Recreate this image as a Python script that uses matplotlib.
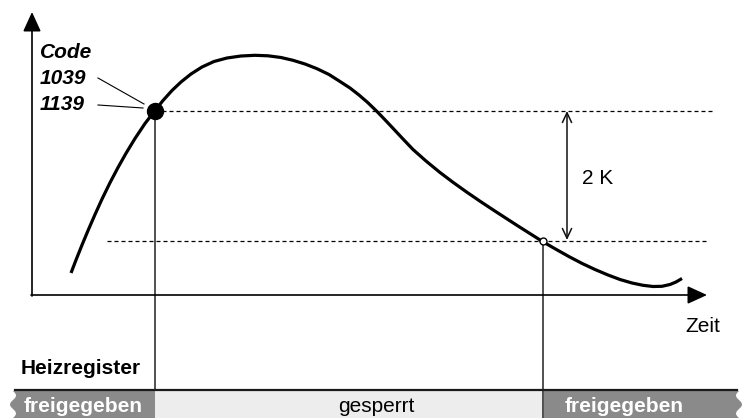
import numpy as np
import matplotlib
matplotlib.use("Agg")
import matplotlib.pyplot as plt
from matplotlib.patches import Polygon

plt.rcParams['font.family'] = ['Liberation Sans', 'DejaVu Sans']

# --- data (schematic; pixel-like units, y downward) ---
curve_t = [71, 76, 82, 88, 95, 102, 110, 118, 126, 135, 145, 155, 163, 172,
           181, 191, 202, 214, 227, 241, 255, 268, 281, 293, 305, 317, 329,
           340, 350, 359, 368, 377, 385, 393, 403, 413, 426, 440, 453, 467,
           480, 493, 505, 518, 530, 543, 556, 569, 582, 595, 608, 620, 632,
           643, 653, 662, 670, 676, 682]
curve_v = [273, 260, 245, 230.6, 214.5, 199.1, 182.7, 167.5, 153.3, 138.5,
           123.5, 110.5, 100.5, 90.5, 82, 74, 67, 61.5, 58, 56, 55.3, 55.8,
           57.5, 60.3, 64, 68.7, 74.5, 81.5, 88, 95, 102.8, 111.5, 119.8,
           128.3, 139, 149.5, 161, 172.5, 182.3, 192.3, 201.2, 209.8, 217.6,
           226, 233.6, 241.8, 249.3, 256.6, 263.4, 269.5, 275, 279.5, 283,
           285.3, 286.5, 286.3, 284.5, 282, 278.5]

switch_off = (155, 111)    # Code 1039 / 1139 point
switch_on = (543, 241)     # 2 K lower point
hyst_label = "2 K"
code_labels = ["Code", "1039", "1139"]
bar_labels = ["freigegeben", "gesperrt", "freigegeben"]
bar_edges = [13, 155, 543, 739]

fig = plt.figure(figsize=(7.45, 4.18), dpi=100)
ax = fig.add_axes([0, 0, 1, 1])
ax.set_xlim(0, 745)
ax.set_ylim(418, 0)
ax.axis('off')

# axes with arrows
ax.annotate("", xy=(32, 12), xytext=(32, 296),
            arrowprops=dict(arrowstyle="-|>,head_length=1.2,head_width=0.55",
                            lw=1.2, color='black', shrinkA=0, shrinkB=0,
                            mutation_scale=10))
ax.annotate("", xy=(707, 295), xytext=(31, 295),
            arrowprops=dict(arrowstyle="-|>,head_length=1.2,head_width=0.55",
                            lw=1.2, color='black', shrinkA=0, shrinkB=0,
                            mutation_scale=10))

# dashed reference lines
ax.plot([switch_off[0], 712], [switch_off[1]] * 2, color='black', lw=0.9,
        linestyle=(0, (3.2, 2.4)))
ax.plot([107, 709], [switch_on[1]] * 2, color='black', lw=0.9,
        linestyle=(0, (3.2, 2.4)))

# vertical lines
ax.plot([switch_off[0]] * 2, [switch_off[1], 390], color='#222222', lw=1.1)
ax.plot([switch_on[0]] * 2, [switch_on[1], 418], color='#222222', lw=1.1)

# curve
ax.plot(curve_t, curve_v, color='black', lw=2.3, solid_capstyle='butt',
        solid_joinstyle='round')

# markers
ax.plot(*switch_off, 'o', color='black', markersize=11.5)
ax.plot(*switch_on, 'o', markerfacecolor='white', markeredgecolor='black',
        markersize=5, markeredgewidth=1.0)

# double arrow 2 K
ax.annotate("", xy=(567, 111), xytext=(567, 240),
            arrowprops=dict(arrowstyle="<->,head_length=0.7,head_width=0.33",
                            lw=1.1, color='#111111', shrinkA=0, shrinkB=0,
                            mutation_scale=10))
ax.text(582, 178, hyst_label, fontsize=15, va='center', ha='left')

# code labels
ax.text(40, 53, code_labels[0], fontsize=15, fontweight='bold',
        fontstyle='italic', va='center', ha='left')
ax.text(40, 79, code_labels[1], fontsize=15, fontweight='bold',
        fontstyle='italic', va='center', ha='left')
ax.text(40, 105, code_labels[2], fontsize=15, fontweight='bold',
        fontstyle='italic', va='center', ha='left')
ax.plot([98, 144], [78, 104], color='black', lw=0.8)
ax.plot([98, 143], [105, 108], color='black', lw=0.8)

# Zeit
ax.text(685, 327, "Zeit", fontsize=15, va='center', ha='left')

# Heizregister
ax.text(21, 368, "Heizregister", fontsize=15, fontweight='bold',
        va='center', ha='left')

# bottom bar
dark = '#8a8a8a'
light = '#ededee'
ytop, ybot = 391, 418
ax.fill_between([bar_edges[1], bar_edges[2]], ytop, ybot, color=light, lw=0)
wy = np.linspace(ytop, ybot, 30)
wx = bar_edges[0] + 3 * np.sin((wy - ytop) / 9.0 * np.pi)
left_poly = np.vstack([np.column_stack([wx, wy]),
                       [[bar_edges[1], ybot], [bar_edges[1], ytop]]])
ax.add_patch(Polygon(left_poly, closed=True, facecolor=dark, edgecolor='none'))
wx2 = bar_edges[3] - 3 * np.sin((wy - ytop) / 9.0 * np.pi)
right_poly = np.vstack([[[bar_edges[2] + 1, ytop]], np.column_stack([wx2, wy]),
                        [[bar_edges[2] + 1, ybot]]])
ax.add_patch(Polygon(right_poly, closed=True, facecolor=dark, edgecolor='none'))
ax.plot([bar_edges[0] + 2, bar_edges[3] - 2], [390, 390], color='#1a1a1a', lw=1.6)

ax.text(83, 407, bar_labels[0], fontsize=15, fontweight='bold', color='white',
        va='center', ha='center')
ax.text(376, 407, bar_labels[1], fontsize=15, color='black',
        va='center', ha='center')
ax.text(624, 407, bar_labels[2], fontsize=15, fontweight='bold', color='white',
        va='center', ha='center')

fig.savefig("out.png", dpi=100)
